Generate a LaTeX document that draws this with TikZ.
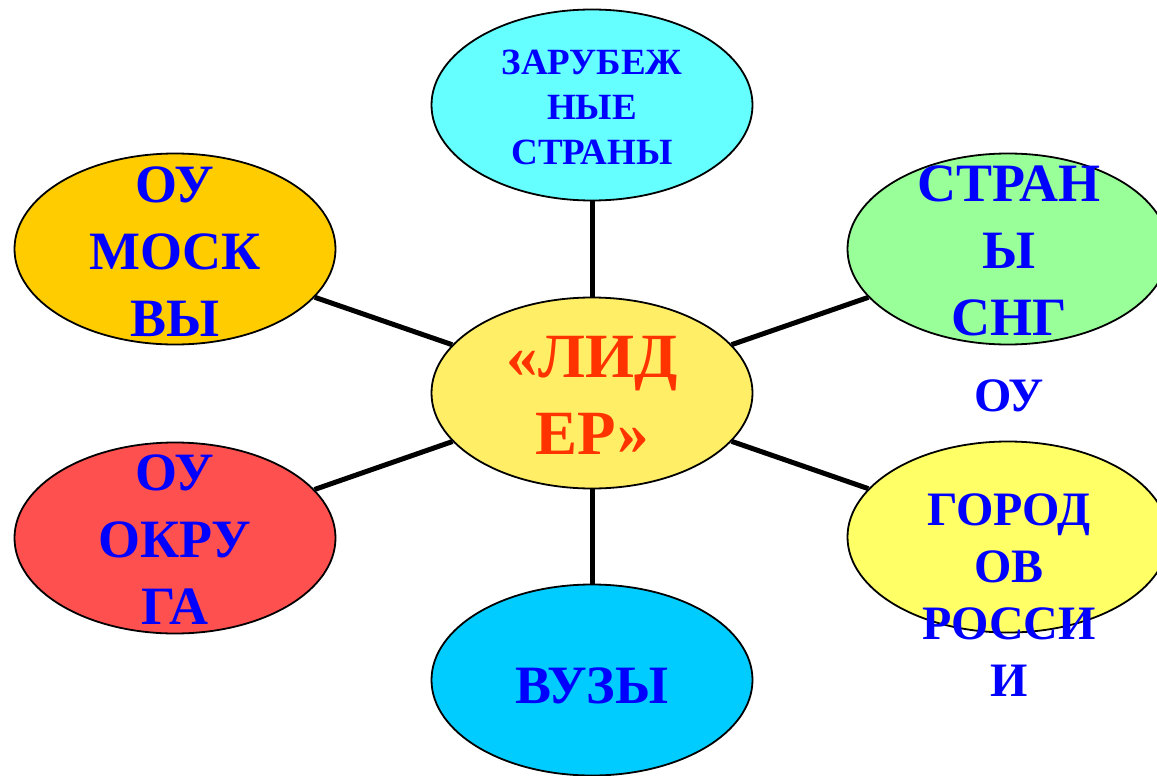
\documentclass[tikz,border=0pt]{standalone}
\usepackage{fontspec}
\setmainfont{Liberation Serif}
\usetikzlibrary{shapes.geometric}
\definecolor{cyanlight}{HTML}{66FFFF}
\definecolor{greenlight}{HTML}{99FF99}
\definecolor{orangeyel}{HTML}{FFCC00}
\definecolor{redlight}{HTML}{FF5050}
\definecolor{yellowlight}{HTML}{FFFF66}
\definecolor{centeryel}{HTML}{FFEE66}
\definecolor{skyblue}{HTML}{00CCFF}
\definecolor{textblue}{HTML}{0000FF}
\definecolor{textred}{HTML}{FF3300}
\begin{document}
\begin{tikzpicture}[x=1pt, y=-1pt,
      oval/.style={ellipse, draw, line width=1.8pt, minimum width=321pt, minimum height=191pt, inner sep=0pt},
      word/.style={align=center, text=textblue, font=\bfseries\fontsize{54}{67}\selectfont},
      link/.style={line width=5pt}]
            \useasboundingbox (0,0) rectangle (1157,776);
            \clip (0,0) rectangle (1157,776);
%           ellipses
            \node[oval, fill=centeryel] (0) at (592, 393) {};
            \node[oval, fill=cyanlight] (1) at (592, 105) {};
            \node[oval, fill=greenlight] (2) at (1008, 249) {};
            \node[oval, fill=yellowlight] (3) at (1008, 537) {};
            \node[oval, fill=skyblue] (4) at (592, 680) {};
            \node[oval, fill=redlight] (5) at (175, 538) {};
            \node[oval, fill=orangeyel] (6) at (175, 249) {};
%           connectors
            \foreach \n in {1,...,6} {
                \draw[link] (0) -- (\n);
            }
%           texts
            \node[word, text=textred, font=\bfseries\fontsize{63}{77}\selectfont] (t0) at (592, 395) {«ЛИД\\ЕР»};
            \node[word, font=\bfseries\fontsize{37}{45}\selectfont] (t1) at (592, 107) {ЗАРУБЕЖ\\НЫЕ\\СТРАНЫ};
            \node[word] (t2) at (1009, 251) {СТРАН\\Ы\\СНГ};
            \node[word, font=\bfseries\fontsize{48}{57}\selectfont] (t3) at (1009, 538) {ОУ\\\mbox{}\\ГОРОД\\ОВ\\РОССИ\\И};
            \node[word] (t4) at (592, 686) {ВУЗЫ};
            \node[word] (t5) at (175, 540) {ОУ\\ОКРУ\\ГА};
            \node[word] (t6) at (175, 252) {ОУ\\МОСК\\ВЫ};
      \end{tikzpicture}
\end{document}
